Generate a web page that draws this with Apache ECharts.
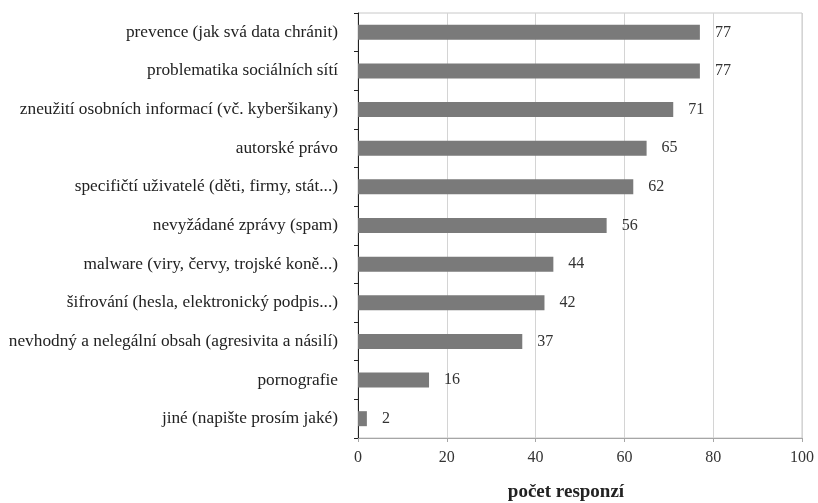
<!DOCTYPE html>
<html>
<head>
<meta charset="utf-8">
<script src="https://cdn.jsdelivr.net/npm/echarts@6/dist/echarts.min.js"></script>
<style>
html,body{margin:0;padding:0;background:#fff;}
#chart{width:818px;height:503px;}
</style>
</head>
<body>
<div id="chart"></div>
<script>
// Topics, listed top to bottom
const categories = [
  'prevence (jak svá data chránit)',
  'problematika sociálních sítí',
  'zneužití osobních informací (vč. kyberšikany)',
  'autorské právo',
  'specifičtí uživatelé (děti, firmy, stát...)',
  'nevyžádané zprávy (spam)',
  'malware (viry, červy, trojské koně...)',
  'šifrování (hesla, elektronický podpis...)',
  'nevhodný a nelegální obsah (agresivita a násilí)',
  'pornografie',
  'jiné (napište prosím jaké)'
];
const responses = [77, 77, 71, 65, 62, 56, 44, 42, 37, 16, 2];
const xTicks = [0, 20, 40, 60, 80, 100];
const axisTitle = 'počet responzí';

const font = '"Liberation Serif", "DejaVu Serif", serif';
const chart = echarts.init(document.getElementById('chart'), null, {renderer: 'canvas'});

chart.setOption({
  animation: false,
  backgroundColor: '#ffffff',
  grid: {left: 358, right: 16, top: 13, bottom: 65, containLabel: false,
         show: true, borderColor: '#c8c8c8', borderWidth: 1},
  xAxis: {
    type: 'value',
    min: xTicks[0],
    max: xTicks[xTicks.length - 1],
    interval: 20,
    axisLine: {show: true, lineStyle: {color: '#a6a6a6', width: 1}},
    axisTick: {show: true, length: 4, lineStyle: {color: '#a6a6a6'}},
    axisLabel: {color: '#333', fontFamily: font, fontSize: 16, margin: 12},
    splitLine: {show: true, lineStyle: {color: '#d4d4d4', width: 1}}
  },
  yAxis: {
    type: 'category',
    inverse: true,
    data: categories,
    axisLine: {show: true, lineStyle: {color: '#222', width: 1}},
    axisTick: {show: true, length: 4, lineStyle: {color: '#222'}},
    axisLabel: {color: '#222', fontFamily: font, fontSize: 17.3, margin: 20}
  },
  series: [{
    type: 'bar',
    data: responses,
    barWidth: 15,
    itemStyle: {color: '#7a7a7a'},
    label: {show: true, position: 'right', distance: 15,
            color: '#333', fontFamily: font, fontSize: 16}
  }],
  graphic: [{
    type: 'text',
    x: 566,
    y: 492,
    style: {text: axisTitle, fill: '#222', align: 'center', verticalAlign: 'middle',
            font: 'bold 19px "Liberation Serif", "DejaVu Serif", serif'}
  }]
});
</script>
</body>
</html>
